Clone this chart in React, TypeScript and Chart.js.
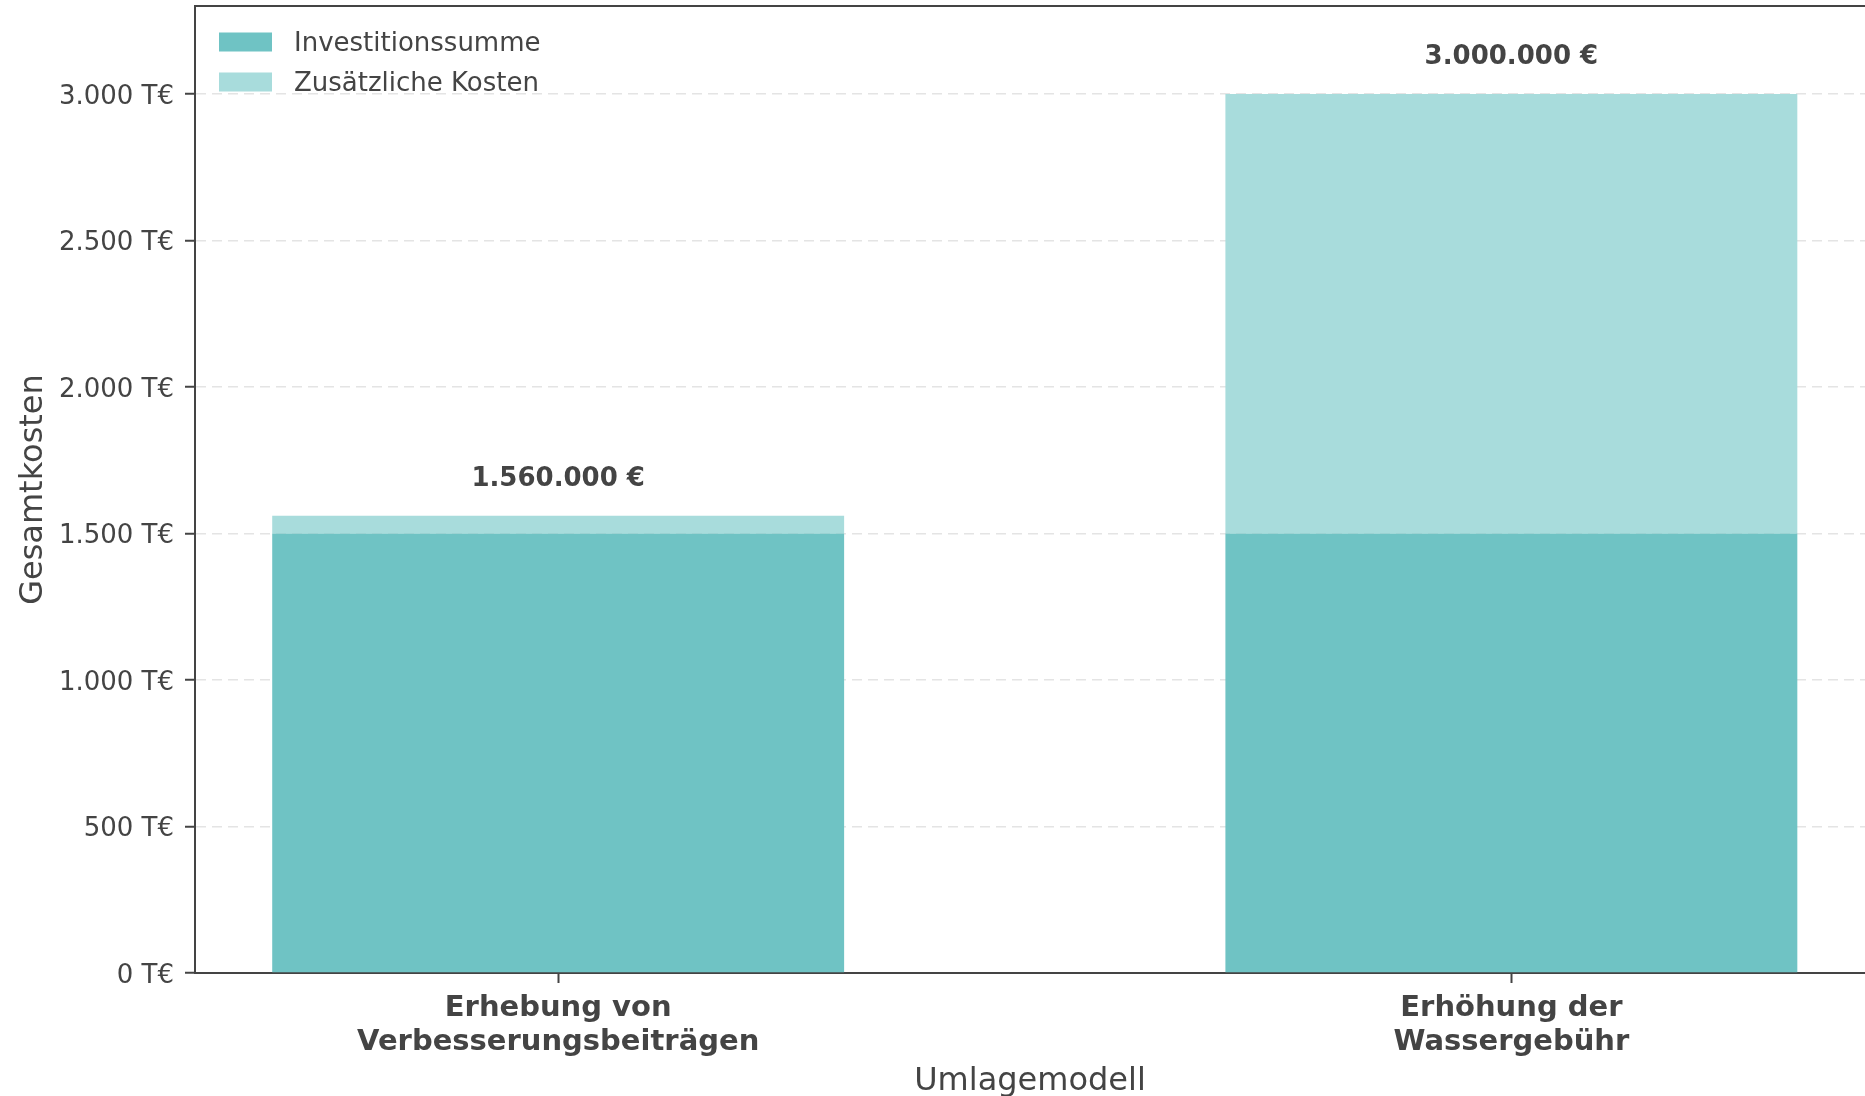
import React, { useEffect, useRef } from "react";
import { Chart, registerables } from "chart.js";

Chart.register(...registerables);

// ---- data ----
const categories: string[][] = [
  ["Erhebung von", "Verbesserungsbeiträgen"],
  ["Erhöhung der", "Wassergebühr"],
];
const categoryPositions = [0, 1];
const seriesLabels = ["Investitionssumme", "Zusätzliche Kosten"];
const investitionssumme = [1500, 1500];
const zusaetzlicheKosten = [60, 1500];
const totalLabels = ["1.560.000 €", "3.000.000 €"];
const yTickValues = [0, 500, 1000, 1500, 2000, 2500, 3000];
const yTickLabels = ["0 T€", "500 T€", "1.000 T€", "1.500 T€", "2.000 T€", "2.500 T€", "3.000 T€"];
const yAxisTitle = "Gesamtkosten";
const xAxisTitle = "Umlagemodell";

// ---- styles ----
const FONT = "'DejaVu Sans', 'Noto Sans', sans-serif";
const TEXT = "#444444";
const AXIS = "#444444";
const COLORS = ["#6fc3c4", "#a8dcdc"];

const overlayPlugin = {
  id: "overlay",
  afterDraw(chart: any) {
    const { ctx, chartArea, scales } = chart;
    ctx.save();
    // top spine
    ctx.strokeStyle = AXIS;
    ctx.lineWidth = 2;
    ctx.beginPath();
    ctx.moveTo(chartArea.left - 1, chartArea.top);
    ctx.lineTo(chartArea.right, chartArea.top);
    ctx.stroke();

    // total labels
    ctx.fillStyle = TEXT;
    ctx.font = `bold 26px ${FONT}`;
    ctx.textAlign = "center";
    ctx.textBaseline = "middle";
    categoryPositions.forEach((pos, i) => {
      const total = investitionssumme[i] + zusaetzlicheKosten[i];
      const x = scales.x.getPixelForValue(pos);
      const y = scales.y.getPixelForValue(total) - 37;
      ctx.fillText(totalLabels[i], x, y);
    });

    // legend
    ctx.font = `26px ${FONT}`;
    ctx.textAlign = "left";
    const sx = chartArea.left + 24;
    const rows = [chartArea.top + 36, chartArea.top + 76];
    seriesLabels.forEach((label, i) => {
      ctx.fillStyle = COLORS[i];
      ctx.fillRect(sx, rows[i] - 9.5, 53, 19);
      ctx.fillStyle = TEXT;
      ctx.fillText(label, sx + 75, rows[i] + 2.5);
    });
    ctx.restore();
  },
};

export default function App() {
  const canvasRef = useRef<HTMLCanvasElement | null>(null);

  useEffect(() => {
    if (!canvasRef.current) return;
    const chart = new Chart(canvasRef.current, {
      type: "bar",
      data: {
        datasets: [
          {
            label: seriesLabels[0],
            data: categoryPositions.map((x, i) => ({ x, y: investitionssumme[i] })),
            backgroundColor: COLORS[0],
            borderWidth: 0,
            categoryPercentage: 1,
            barPercentage: 0.6,
          },
          {
            label: seriesLabels[1],
            data: categoryPositions.map((x, i) => ({ x, y: zusaetzlicheKosten[i] })),
            backgroundColor: COLORS[1],
            borderWidth: 0,
            categoryPercentage: 1,
            barPercentage: 0.6,
          },
        ],
      },
      options: {
        animation: false,
        responsive: true,
        maintainAspectRatio: false,
        layout: { padding: { top: 6, right: 0, left: 0, bottom: 0 } },
        plugins: {
          legend: { display: false },
          tooltip: { enabled: false },
        },
        scales: {
          x: {
            type: "linear",
            stacked: true,
            offset: false,
            min: -0.381,
            max: 1.371,
            afterBuildTicks: (scale: any) => {
              scale.ticks = categoryPositions.map((v) => ({ value: v }));
            },
            afterFit: (scale: any) => {
              scale.height = 123;
              scale.paddingLeft = 0;
              scale.paddingRight = 0;
            },
            ticks: {
              autoSkip: false,
              maxRotation: 0,
              minRotation: 0,
              padding: 9,
              color: TEXT,
              font: { family: FONT, size: 29, weight: "bold", lineHeight: 1.15 },
              callback: (v: any) => {
                const idx = categoryPositions.indexOf(Number(v));
                return idx >= 0 ? categories[idx] : "";
              },
            },
            grid: {
              offset: false,
              drawOnChartArea: false,
              drawTicks: true,
              tickLength: 10,
              tickColor: AXIS,
              tickWidth: 2,
            },
            border: { display: true, color: AXIS, width: 2 },
            title: {
              display: true,
              text: xAxisTitle,
              color: TEXT,
              font: { family: FONT, size: 32, lineHeight: 0.88 },
              padding: { top: 0, bottom: 0 },
            },
          },
          y: {
            type: "linear",
            stacked: true,
            min: 0,
            max: 3300,
            afterBuildTicks: (scale: any) => {
              scale.ticks = yTickValues.map((v) => ({ value: v }));
            },
            afterFit: (scale: any) => {
              scale.width = 195;
              scale.paddingTop = 0;
              scale.paddingBottom = 0;
            },
            ticks: {
              padding: 11,
              labelOffset: 3,
              color: TEXT,
              font: { family: FONT, size: 26 },
              callback: (v: any) => {
                const idx = yTickValues.indexOf(Number(v));
                return idx >= 0 ? yTickLabels[idx] : "";
              },
            },
            grid: {
              color: "#e4e4e4",
              lineWidth: 1.5,
              drawTicks: true,
              tickLength: 10,
              tickColor: AXIS,
              tickWidth: 2,
              tickBorderDash: [],
            },
            border: { display: true, color: AXIS, width: 2, dash: [10, 6] },
            title: {
              display: true,
              text: yAxisTitle,
              color: TEXT,
              font: { family: FONT, size: 32, lineHeight: 1.2 },
              padding: { top: 14, bottom: 0 },
            },
          },
        },
      },
      plugins: [overlayPlugin],
    } as any);
    return () => chart.destroy();
  }, []);

  return (
    <div style={{ position: "fixed", left: 0, top: 0, width: 1865, height: 1096, background: "#ffffff" }}>
      <canvas ref={canvasRef} />
    </div>
  );
}
